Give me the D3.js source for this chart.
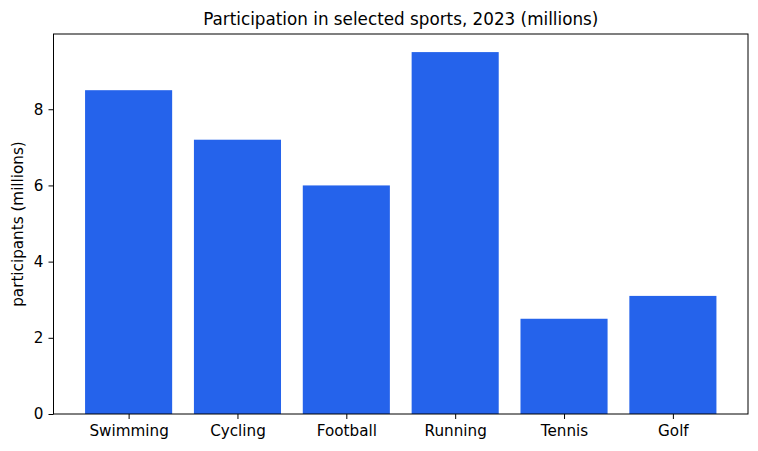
<!DOCTYPE html>
<html>
<head>
<meta charset="utf-8">
<script src="https://cdn.jsdelivr.net/npm/d3@7"></script>
<style>
  body { margin: 0; background: #fff; }
  text { font-family: "DejaVu Sans", sans-serif; fill: #000; }
</style>
</head>
<body>
<svg width="758" height="451"></svg>
<script>
// data
const sports = ["Swimming", "Cycling", "Football", "Running", "Tennis", "Golf"];
const participants = [8.5, 7.2, 6.0, 9.5, 2.5, 3.1];
const yTicks = [0, 2, 4, 6, 8];

const svg = d3.select("svg");
const margin = { top: 34, right: 10, bottom: 37, left: 53.5 };
const W = 758, H = 451;

// matplotlib-ish limits: bars at integer positions, width 0.8, 5% margins
const n = sports.length;
const span = (n - 1) + 0.8;
const x = d3.scaleLinear()
  .domain([-0.4 - span * 0.05, n - 1 + 0.4 + span * 0.05])
  .range([margin.left, W - margin.right]);
const y = d3.scaleLinear()
  .domain([0, d3.max(participants) * 1.05])
  .range([H - margin.bottom, margin.top]);

svg.append("g")
  .selectAll("rect")
  .data(participants)
  .join("rect")
  .attr("x", (d, i) => x(i - 0.4))
  .attr("width", (d, i) => x(i + 0.4) - x(i - 0.4))
  .attr("y", d => y(d))
  .attr("height", d => y(0) - y(d))
  .attr("fill", "#2563eb");

// axes
const xAxis = svg.append("g")
  .attr("transform", `translate(0,${H - margin.bottom})`)
  .call(d3.axisBottom(x).tickValues(d3.range(n)).tickFormat(i => sports[i]).tickSize(5).tickPadding(6));
const yAxis = svg.append("g")
  .attr("transform", `translate(${margin.left},0)`)
  .call(d3.axisLeft(y).tickValues(yTicks).tickSize(5).tickPadding(5));

[xAxis, yAxis].forEach(a => {
  a.select(".domain").remove();
  a.selectAll("text").style("font-size", "15.2px").style("font-family", "DejaVu Sans");
  a.selectAll("line").attr("stroke", "#000").attr("stroke-width", 1);
});

// frame
svg.append("rect")
  .attr("x", margin.left)
  .attr("y", margin.top)
  .attr("width", W - margin.right - margin.left)
  .attr("height", H - margin.bottom - margin.top)
  .attr("fill", "none")
  .attr("stroke", "#000")
  .attr("stroke-width", 1);

svg.append("text")
  .attr("x", (margin.left + W - margin.right) / 2)
  .attr("y", 25)
  .attr("text-anchor", "middle")
  .style("font-size", "16.8px")
  .text("Participation in selected sports, 2023 (millions)");

svg.append("text")
  .attr("transform", `translate(23,${(margin.top + H - margin.bottom) / 2}) rotate(-90)`)
  .attr("text-anchor", "middle")
  .style("font-size", "15.2px")
  .text("participants (millions)");
</script>
</body>
</html>
